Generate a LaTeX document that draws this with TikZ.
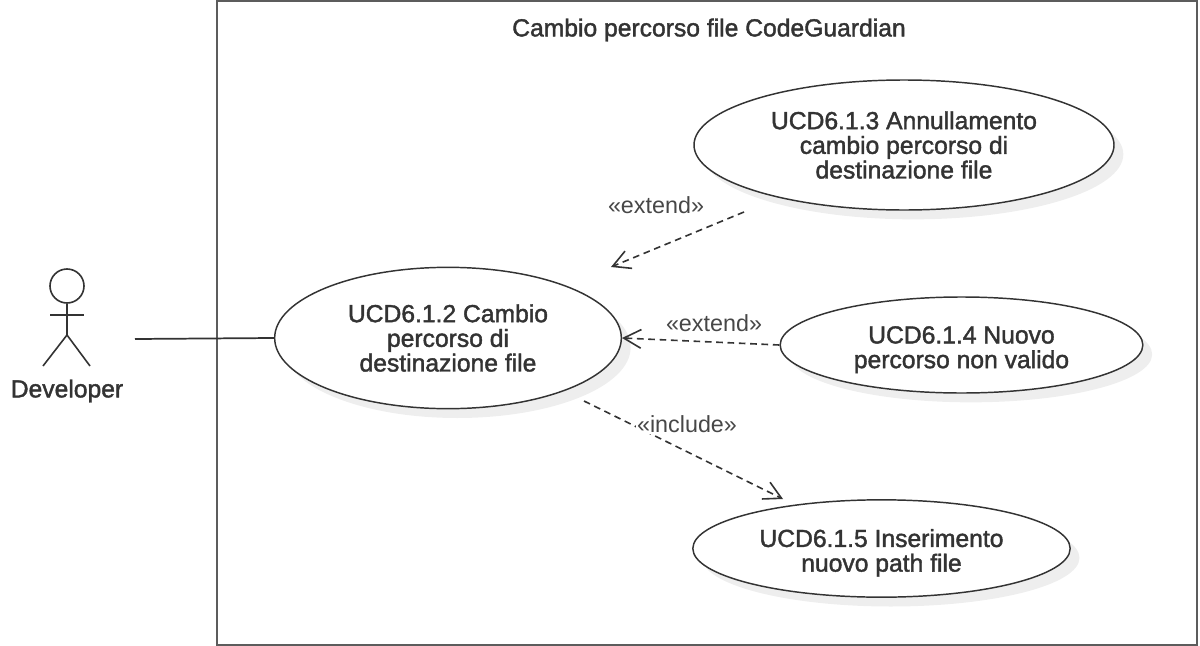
\documentclass[tikz,border=0pt]{standalone}
\usepackage{fontspec}
\setmainfont{Liberation Sans}
\newfontfamily\heavyfont[FakeBold=1.6]{Liberation Sans}
\usetikzlibrary{arrows.meta,positioning,shapes.geometric,shadows}

\definecolor{linegray}{HTML}{333333}
\definecolor{shadowgray}{HTML}{EEEEEE}
\newcommand{\lowerline}{\rule{0pt}{20pt}}

\begin{document}
\begin{tikzpicture}[x=0.75pt,y=-0.75pt,>={Straight Barb[length=13pt,width=14pt]},thin]
\tikzstyle{every node}=[font=\heavyfont\fontsize{18.5pt}{18.5pt}\selectfont,text=linegray]
\tikzstyle{usecase}=[shape=ellipse,draw=linegray,line width=1.1pt,fill=white,inner sep=0pt,align=center,
  drop shadow={shadow xshift=7pt,shadow yshift=-7pt,fill=shadowgray,opacity=1}]
\tikzstyle{stereo}=[font=\fontsize{17.5pt}{18pt}\selectfont,text=linegray!90,inner sep=1pt]
\tikzstyle{link}=[->,dash pattern=on 5pt off 3.5pt,line width=1.2pt,draw=linegray]
\tikzstyle{stick}=[draw=linegray,line width=1.2pt]

\useasboundingbox (0,0) rectangle (1200,646);
\draw[draw=linegray!80,line width=1.5pt] (217,1) rectangle (1197,645);
\node (title) at (709,30) {Cambio percorso file CodeGuardian};

\node[usecase,minimum width=315pt,minimum height=97.5pt] (cancel) at (904,145) {UCD6.1.3 Annullamento\\cambio percorso di\\destinazione file};
\node[usecase,minimum width=260pt,minimum height=106pt] (change) at (448,338) {UCD6.1.2 Cambio\\percorso di\\destinazione file};
\node[usecase,minimum width=272pt,minimum height=72pt] (invalid) at (961.5,345) {\lowerline UCD6.1.4 Nuovo\\percorso non valido};
\node[usecase,minimum width=283pt,minimum height=73pt] (newpath) at (881.5,548.5) {\lowerline UCD6.1.5 Inserimento\\nuovo path file};

% actor
\node[shape=circle,stick,minimum size=25.5pt,inner sep=0pt] (head) at (67,286) {};
\coordinate (hip) at (67,335);
\coordinate (armL) at (50,315);
\coordinate (armR) at (84,315);
\coordinate (footL) at (43,366);
\coordinate (footR) at (90,366);
\draw[stick] (head.south) -- (hip);
\draw[stick] (armL) -- (armR);
\draw[stick] (footL) -- (hip) -- (footR);
\node (developer) at (67,391) {Developer};

\coordinate (devEnd) at (135,339);
\coordinate (cancelStart) at (744,212);
\coordinate (cancelEnd) at (611,267);
\coordinate (includeStart) at (584,401);
\coordinate (includeEnd) at (783,499);

\draw[draw=linegray,line width=1.3pt] (devEnd) -- (change.west);
\draw[link] (cancelStart) -- (cancelEnd);
\draw[link] (invalid.west) -- (change.east);
\draw[link] (includeStart) -- (includeEnd);

\node[stereo] (extendTop) at (656,205) {«extend»};
\node[stereo] (extendMid) at (714,323) {«extend»};
\node[stereo,fill=white] (includeLabel) at (687,424) {«include»};
\end{tikzpicture}
\end{document}
